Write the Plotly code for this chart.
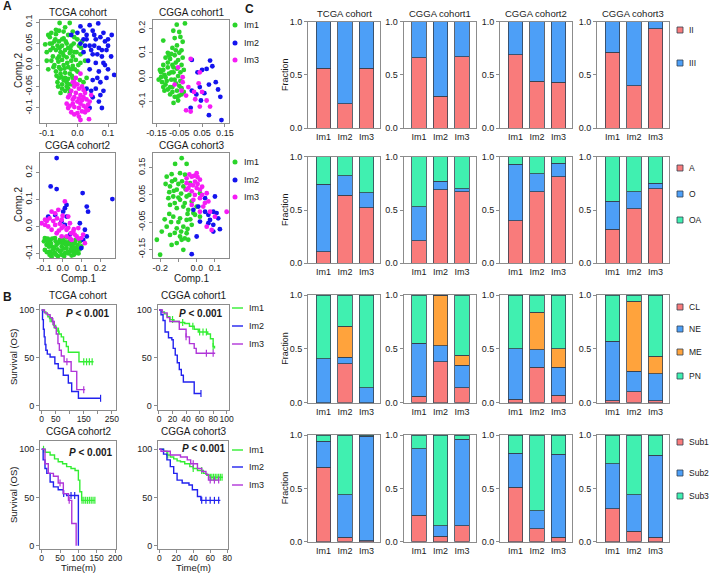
import plotly.graph_objects as go

W, H = 709, 573
FONT = "Liberation Sans, Arial, sans-serif"
TXT = "#1a1a1a"
BOX = "#8c8c8c"

# ======================= DATA =======================
groups = ["Im1", "Im2", "Im3"]
cohorts = ["TCGA cohort", "CGGA cohort1", "CGGA cohort2", "CGGA cohort3"]

# ---- Panel A: PCA scatter (Comp.1, Comp.2) ----
tcga_im1 = [(-0.058,0.098),(-0.025,0.098),(-0.095,0.07),(-0.085,0.075),(-0.07,0.072),(-0.06,0.08),(-0.045,0.078),
            (-0.03,0.07),(-0.01,0.065),(0.0,0.06),(-0.105,0.048),(-0.09,0.05),(-0.075,0.055),(-0.06,0.055),(-0.05,0.06),
            (-0.035,0.05),(-0.02,0.045),(0.005,0.045),(-0.07,0.035),(-0.055,0.03),(-0.04,0.035),(-0.025,0.028),(-0.01,0.03),
            (0.01,0.025),(-0.08,0.02),(-0.065,0.015),(-0.05,0.012),(-0.035,0.018),(-0.02,0.01),(-0.005,0.012),(-0.075,0.0),
            (-0.06,-0.005),(-0.045,0.0),(-0.03,-0.005),(-0.015,-0.002),(-0.07,-0.015),(-0.055,-0.02),(-0.04,-0.018),
            (-0.025,-0.02),(-0.06,-0.03),(-0.045,-0.035),(-0.03,-0.032),(-0.015,-0.03),(-0.05,-0.045),(-0.035,-0.05),
            (-0.02,-0.045),(-0.04,-0.06),(-0.025,-0.065),(0.02,-0.04),(0.03,-0.03),(0.01,0.005),(-0.085,0.01),(-0.1,0.03),
            (-0.065,-0.04),(-0.05,0.045),(0.015,0.055),(-0.065,0.045),(-0.045,0.022),(-0.03,0.04),(-0.055,-0.01),
            (-0.04,-0.03),(-0.08,0.04),(-0.09,0.065),(-0.02,-0.01),(-0.035,-0.04),(-0.05,-0.055),(-0.015,0.02),
            (0.0,-0.015),(-0.06,0.02),(-0.045,0.062),
            (-0.1,0.01),(-0.095,-0.01),(-0.088,0.035),(-0.078,-0.005),(-0.072,0.06),(-0.068,-0.025),(-0.062,0.008),
            (-0.058,0.04),(-0.052,-0.028),(-0.048,0.028),(-0.042,-0.008),(-0.038,0.055),(-0.033,0.005),(-0.028,-0.045),
            (-0.022,0.035),(-0.018,-0.025),(-0.012,0.05),(-0.008,-0.01),(-0.003,0.03),(0.003,0.0),(0.008,-0.035),
            (0.012,0.04),(-0.07,0.082),(-0.04,0.088),(-0.015,0.078),(-0.055,-0.065),(-0.03,-0.055),(-0.083,0.05),
            (-0.063,-0.05),(0.025,0.01)]
tcga_im2 = [(0.04,0.093),(0.068,0.097),(0.112,0.07),(0.12,-0.023),(0.08,-0.1),(-0.02,0.07),(0.0,0.075),(0.02,0.08),
            (0.05,0.08),(0.085,0.075),(0.03,0.06),(0.06,0.06),(0.09,0.055),(0.01,0.05),(0.04,0.045),(0.07,0.04),
            (0.1,0.045),(0.02,0.03),(0.05,0.025),(0.08,0.02),(0.11,0.02),(0.035,0.01),(0.06,0.005),(0.09,0.0),
            (0.04,-0.01),(0.07,-0.015),(0.1,-0.01),(0.05,-0.035),(0.075,-0.04),(0.06,-0.055),(0.085,-0.06),
            (0.05,-0.075),(0.07,-0.085),(0.04,-0.1),(0.03,-0.055),(0.065,0.025),(0.08,0.035),
            (0.01,0.09),(0.03,0.07),(0.055,0.07),(0.075,0.065),(0.095,0.035),(0.045,0.035),(0.025,0.045),
            (0.055,0.045),(0.085,0.005),(0.065,-0.03),(0.095,-0.03),(0.045,-0.06),(0.075,-0.07),(0.1,0.06),(0.02,0.06)]
tcga_im3 = [(0.038,-0.126),(-0.015,-0.04),(0.0,-0.045),(0.015,-0.05),(-0.02,-0.06),(-0.005,-0.065),(0.01,-0.07),
            (0.025,-0.065),(-0.03,-0.075),(-0.015,-0.08),(0.0,-0.085),(0.015,-0.082),(0.03,-0.08),(-0.025,-0.095),
            (-0.01,-0.098),(0.005,-0.1),(0.02,-0.095),(0.035,-0.092),(-0.02,-0.11),(0.0,-0.112),(0.015,-0.108),
            (0.005,-0.12),(-0.005,-0.03),(0.045,-0.07),(-0.035,-0.09),(0.025,-0.11),(-0.01,-0.05),(0.01,-0.02),
            (-0.01,-0.04),(0.005,-0.055),(0.02,-0.058),(-0.025,-0.07),(-0.01,-0.075),(0.005,-0.078),(0.02,-0.075),
            (0.04,-0.085),(-0.03,-0.1),(-0.015,-0.09),(0.01,-0.09),(0.028,-0.1),(-0.01,-0.115),(0.01,-0.128),
            (0.035,-0.105)]

cgga1_im1 = [(-0.061,0.215),(-0.025,0.22),(-0.12,0.15),(-0.076,0.19),(-0.05,0.185),(-0.07,0.16),(-0.045,0.165),
             (-0.035,0.145),(-0.06,0.13),(-0.08,0.12),(-0.1,0.1),(-0.04,0.11),(-0.11,0.08),(-0.09,0.075),(-0.07,0.09),
             (-0.055,0.07),(-0.12,0.05),(-0.1,0.04),(-0.08,0.05),(-0.06,0.035),(-0.04,0.05),(-0.13,0.02),(-0.115,0.01),
             (-0.095,0.015),(-0.075,0.02),(-0.055,0.005),(-0.14,-0.01),(-0.125,-0.02),(-0.105,-0.015),(-0.085,-0.01),
             (-0.065,-0.025),(-0.045,-0.015),(-0.12,-0.04),(-0.1,-0.05),(-0.08,-0.04),(-0.06,-0.055),(-0.04,-0.045),
             (-0.09,-0.07),(-0.07,-0.08),(-0.05,-0.075),(-0.075,-0.105),(-0.055,-0.095),(-0.03,-0.06),(-0.11,0.0),
             (-0.03,0.03),(-0.095,0.09),
             (-0.13,0.0),(-0.12,0.03),(-0.11,-0.03),(-0.1,0.06),(-0.09,-0.04),(-0.085,0.02),(-0.08,-0.06),
             (-0.075,0.04),(-0.07,-0.01),(-0.065,0.06),(-0.06,-0.08),(-0.05,-0.035),(-0.045,0.02),(-0.04,-0.07),
             (-0.035,0.08),(-0.05,0.1),(-0.065,0.11),(-0.085,0.095),(-0.135,0.03),(-0.115,-0.055)]
cgga1_im2 = [(0.005,0.071),(0.085,0.068),(0.07,0.034),(0.05,0.03),(0.03,0.02),(0.08,-0.03),(0.12,-0.05),(0.13,-0.08),
             (0.005,-0.055),(0.025,-0.07),(0.045,-0.095),(0.0,-0.125),(0.08,-0.155),(0.135,-0.175),(0.11,-0.02),
             (0.04,-0.04),(0.095,0.045),(0.06,-0.065)]
cgga1_im3 = [(0.0,0.075),(-0.055,0.04),(-0.035,0.0),(-0.07,-0.03),(-0.01,-0.04),(-0.02,-0.075),(0.015,-0.06),
             (0.035,-0.025),(0.04,0.02),(0.05,-0.06),(0.07,-0.095),(0.04,-0.12),(0.0,-0.14),(-0.02,-0.135),
             (-0.04,-0.055),(0.02,-0.09),(-0.035,-0.02),(0.085,-0.12)]

cgga2_im1 = [(-0.095,-0.043),(-0.068,-0.05),(-0.041,-0.043),(-0.014,-0.05),(0.012,-0.056),(0.039,-0.05),(0.066,-0.062),
             (0.093,-0.056),(-0.086,-0.068),(-0.059,-0.074),(-0.032,-0.068),(-0.005,-0.074),(0.021,-0.08),(0.048,-0.074),
             (0.075,-0.08),(0.1,-0.074),(-0.095,-0.087),(-0.068,-0.093),(-0.041,-0.099),(-0.014,-0.093),(0.012,-0.099),
             (0.039,-0.093),(0.066,-0.099),(-0.059,-0.112),(-0.005,-0.105),(0.048,-0.108),(0.075,-0.087),(-0.077,-0.06),
             (-0.05,-0.085),(0.0,-0.062),(0.03,-0.065),(0.055,-0.09),(-0.025,-0.11),(0.085,-0.1),(-0.1,-0.055),(0.02,-0.04),
             (-0.09,-0.05),(-0.08,-0.045),(-0.073,-0.075),(-0.063,-0.062),(-0.055,-0.045),(-0.046,-0.078),(-0.037,-0.055),
             (-0.028,-0.085),(-0.02,-0.06),(-0.01,-0.09),(0.0,-0.048),(0.006,-0.082),(0.016,-0.066),(0.025,-0.095),
             (0.034,-0.058),(0.044,-0.085),(0.052,-0.066),(0.061,-0.078),(0.07,-0.05),(0.08,-0.068),(0.09,-0.085),
             (-0.085,-0.095),(-0.05,-0.1),(-0.035,-0.105),(0.008,-0.11),(0.03,-0.1),(-0.07,-0.105),(0.06,-0.105)]
cgga2_im2 = [(-0.032,0.254),(-0.064,0.149),(-0.032,0.139),(0.107,0.124),(0.266,0.102),(0.129,0.074),(0.136,0.055),
             (0.012,0.068),(0.003,0.055),(0.021,0.037),(-0.006,0.019),(0.012,0.006),(0.092,0.012),(0.119,-0.012),
             (0.129,-0.037),(0.11,-0.05),(0.1,-0.08),(-0.077,0.037),(-0.04,0.043),(0.021,0.08),(0.039,-0.03)]
cgga2_im3 = [(0.012,0.093),(-0.094,0.025),(-0.059,0.055),(-0.04,0.049),(-0.077,0.0),(-0.04,0.006),(-0.005,0.025),
             (-0.005,-0.006),(0.021,-0.012),(0.039,0.012),(0.057,-0.019),(0.075,-0.037),(0.1,-0.043),(0.119,-0.062),
             (0.048,-0.05),(0.021,-0.037),(-0.032,-0.025),(-0.059,-0.012),(-0.094,0.006),(0.084,-0.006),(-0.023,0.062),
             (0.03,0.037),(-0.112,0.012),(-0.005,-0.037),
             (-0.085,0.02),(-0.07,0.03),(-0.05,0.02),(-0.03,0.03),(-0.015,0.01),(0.005,0.0),(0.03,-0.005),
             (0.045,-0.025),(0.065,-0.03),(0.085,-0.045),(0.11,-0.03),(0.06,-0.01),(-0.02,-0.015),(0.0,0.04),
             (0.04,-0.045)]

cgga3_im1 = [(-0.082,0.185),(-0.118,0.164),(-0.055,0.164),(-0.164,0.117),(-0.137,0.126),(-0.091,0.13),(-0.064,0.124),
             (-0.118,0.106),(-0.146,0.081),(-0.109,0.069),(-0.073,0.081),(-0.036,0.093),(-0.155,0.038),(-0.128,0.044),
             (-0.091,0.032),(-0.055,0.044),(-0.027,0.026),(-0.146,0.013),(-0.109,0.001),(-0.073,0.007),(-0.046,-0.005),
             (-0.018,-0.017),(-0.128,-0.03),(-0.091,-0.036),(-0.055,-0.042),(-0.164,-0.067),(-0.109,-0.073),
             (-0.073,-0.067),(-0.027,-0.06),(-0.191,-0.085),(-0.146,-0.097),(-0.091,-0.103),(-0.055,-0.091),
             (-0.218,-0.115),(-0.137,-0.134),(-0.109,-0.127),(-0.073,-0.152),(-0.2,-0.17),(-0.082,-0.115),
             (-0.046,-0.115),(-0.009,-0.023),(0.018,0.056),(0.0,0.007),(0.018,-0.03),
             (-0.17,0.09),(-0.15,0.06),(-0.135,0.1),(-0.125,0.065),(-0.12,0.02),(-0.1,0.09),(-0.1,0.04),
             (-0.085,0.055),(-0.08,0.1),(-0.065,0.02),(-0.06,0.07),(-0.05,-0.02),(-0.04,0.05),(-0.035,-0.04),
             (-0.14,-0.05),(-0.12,-0.09),(-0.1,-0.05),(-0.085,-0.085),(-0.065,-0.11),(-0.05,-0.075),(-0.15,-0.02),
             (-0.175,-0.04)]
cgga3_im2 = [(0.1,0.044),(0.046,0.038),(0.009,0.007),(0.046,-0.012),(0.064,-0.023),(0.091,-0.012),(0.109,-0.017),
             (0.118,-0.036),(0.018,-0.048),(0.064,-0.054),(0.091,-0.06),(0.127,-0.076),(0.091,-0.085),(0.0,-0.103),
             (-0.027,-0.168),(-0.018,-0.005),(0.073,-0.042)]
cgga3_im3 = [(0.0,0.13),(-0.027,0.117),(-0.055,0.111),(-0.009,0.099),(0.018,0.106),(-0.036,0.087),(0.0,0.075),
             (-0.055,0.069),(-0.027,0.063),(0.018,0.069),(-0.018,0.032),(0.018,0.038),(0.055,0.056),(0.064,0.026),
             (0.036,0.007),(0.073,-0.012),(0.1,-0.03),(0.164,-0.012),(0.055,-0.067),(0.082,-0.079),(0.018,-0.012),
             (-0.027,0.013),(-0.055,0.093),
             (-0.04,0.125),(-0.015,0.12),(0.005,0.115),(-0.02,0.085),(0.005,0.09),(-0.045,0.075),(0.03,0.08),
             (-0.01,0.05),(0.03,0.05),(0.045,0.02)]

# ---- Panel B: Kaplan-Meier step data (time in months, survival %) ----
tcga_km_im1_t = [0, 8, 15, 22, 28, 35, 42, 50, 55, 62, 70, 78, 88, 95, 133, 185]
tcga_km_im1_s = [100, 98, 96, 93, 91, 88, 84, 81, 78, 75, 72, 67, 62, 56, 46, 46]
tcga_km_im2_t = [0, 3, 6, 9, 12, 15, 20, 30, 47, 59, 77, 95, 107, 131, 210]
tcga_km_im2_s = [100, 90, 80, 72, 64, 58, 54, 51, 44, 39, 32, 24, 15, 8, 8]
tcga_km_im3_t = [0, 10, 20, 30, 38, 45, 52, 58, 63, 70, 80, 105, 125, 155]
tcga_km_im3_s = [100, 97, 95, 92, 88, 82, 75, 65, 58, 52, 46, 36, 17, 17]
tcga_cens = {"Im1": [30, 45, 60, 150, 160, 170, 180], "Im2": [210], "Im3": [40, 90, 150]}

cgga1_km_im1_t = [0, 4, 8, 12, 16, 22, 30, 38, 45, 52, 58, 72, 76, 80, 82]
cgga1_km_im1_s = [100, 98, 96, 93, 90, 88, 87, 86, 83, 80, 77, 75, 70, 62, 60]
cgga1_km_im2_t = [0, 3, 6, 9, 14, 19, 21, 24, 27, 30, 33, 36, 52, 62]
cgga1_km_im2_s = [100, 95, 89, 77, 71, 69, 60, 53, 45, 38, 32, 25, 13, 13]
cgga1_km_im3_t = [0, 5, 12, 16, 30, 40, 45, 52, 55, 83]
cgga1_km_im3_s = [100, 97, 92, 88, 80, 72, 65, 60, 55, 55]
cgga1_cens = {"Im1": [20, 35, 50, 60, 65, 70, 80], "Im2": [62], "Im3": [40, 70, 80]}

cgga2_km_im1_t = [0, 10, 23, 35, 45, 57, 68, 80, 91, 100, 104, 109, 145]
cgga2_km_im1_s = [100, 97, 94, 90, 87, 85, 82, 80, 78, 68, 56, 47, 47]
cgga2_km_im2_t = [0, 4, 9, 14, 23, 32, 45, 59, 68, 100]
cgga2_km_im2_s = [100, 89, 80, 75, 66, 61, 58, 54, 52, 0]
cgga2_km_im3_t = [0, 9, 18, 32, 45, 59, 73, 82, 94]
cgga2_km_im3_s = [100, 85, 75, 72, 65, 54, 47, 23, 0]
cgga2_cens = {"Im1": [5, 110, 115, 120, 125, 130, 135, 140, 145], "Im2": [60, 80, 90], "Im3": [50, 75]}

cgga3_km_im1_t = [0, 5, 9, 13, 17, 21, 25, 30, 36, 40, 45, 52, 56, 60, 75]
cgga3_km_im1_s = [100, 98, 94, 92, 90, 88, 87, 85, 82, 80, 78, 75, 73, 71, 71]
cgga3_km_im2_t = [0, 5, 9, 13, 17, 21, 27, 35, 39, 45, 49, 72]
cgga3_km_im2_s = [100, 95, 89, 82, 75, 68, 65, 63, 58, 51, 47, 47]
cgga3_km_im3_t = [0, 2, 13, 20, 25, 33, 37, 45, 50, 55, 58, 71]
cgga3_km_im3_s = [100, 98, 94, 94, 92, 89, 85, 80, 77, 74, 68, 68]
cgga3_cens = {"Im1": [10, 40, 50, 60, 62, 64, 66, 68, 70, 72, 74], "Im2": [50, 55, 60, 65, 70],
              "Im3": [40, 60, 65, 70]}

p_label = "<b><i>P</i> < 0.001</b>"

# ---- Panel C: stacked fractions, per cohort [TCGA, CGGA1, CGGA2, CGGA3], values for Im1, Im2, Im3 ----
grade_levels = ["II", "III"]
grade_II = [[0.56, 0.23, 0.56], [0.66, 0.30, 0.67], [0.69, 0.44, 0.43], [0.71, 0.40, 0.93]]
grade_III = [[0.44, 0.77, 0.44], [0.34, 0.70, 0.33], [0.31, 0.56, 0.57], [0.29, 0.60, 0.07]]

hist_levels = ["A", "O", "OA"]
hist_A = [[0.11, 0.64, 0.52], [0.21, 0.69, 0.67], [0.40, 0.67, 0.81], [0.32, 0.51, 0.70]]
hist_O = [[0.63, 0.18, 0.14], [0.32, 0.08, 0.03], [0.53, 0.17, 0.13], [0.26, 0.16, 0.05]]
hist_OA = [[0.26, 0.18, 0.34], [0.47, 0.23, 0.30], [0.07, 0.16, 0.06], [0.42, 0.33, 0.25]]

sub_levels = ["CL", "NE", "ME", "PN"]
sub_CL = [[0.00, 0.36, 0.00], [0.06, 0.38, 0.14], [0.03, 0.33, 0.07], [0.02, 0.10, 0.02]]
sub_NE = [[0.41, 0.06, 0.14], [0.49, 0.15, 0.21], [0.47, 0.16, 0.26], [0.55, 0.19, 0.25]]
sub_ME = [[0.00, 0.29, 0.00], [0.00, 0.47, 0.09], [0.00, 0.35, 0.17], [0.00, 0.65, 0.16]]
sub_PN = [[0.59, 0.29, 0.86], [0.45, 0.00, 0.56], [0.50, 0.16, 0.50], [0.43, 0.06, 0.57]]

cls_levels = ["Sub1", "Sub2", "Sub3"]
cls_Sub1 = [[0.70, 0.04, 0.01], [0.25, 0.05, 0.15], [0.51, 0.12, 0.04], [0.31, 0.10, 0.04]]
cls_Sub2 = [[0.24, 0.40, 0.98], [0.62, 0.10, 0.81], [0.32, 0.17, 0.78], [0.42, 0.34, 0.77]]
cls_Sub3 = [[0.06, 0.56, 0.01], [0.13, 0.85, 0.04], [0.17, 0.71, 0.18], [0.27, 0.56, 0.19]]

# ======================= STYLE =======================
SC_COL = {"Im1": "#2ad42a", "Im2": "#1414ee", "Im3": "#f51cf5"}
KM_COL = {"Im1": "#33ee33", "Im2": "#2222ee", "Im3": "#b036d8"}
C_RED, C_BLUE, C_GREEN, C_ORANGE = "#f97b7b", "#4d9ff7", "#40f0b0", "#ffa33c"
BAR_EDGE = "#34404f"

fig = go.Figure()
layout = {}
annotations = []
shapes = []

def xd(a, b):
    return [a / W, b / W]

def yd(a, b):
    return [1 - b / H, 1 - a / H]

axis_counter = [0]

def new_axes(xbox, ybox, xr, yr, xtv, xtt, ytv, ytt, ytickangle=0, xticks="outside", yticks="outside",
             xfont=9, yfont=9, xstand=0):
    axis_counter[0] += 1
    i = axis_counter[0]
    sx = "" if i == 1 else str(i)
    common = dict(showline=True, mirror=True, linecolor=BOX, linewidth=1, showgrid=False, zeroline=False,
                  ticklen=3, tickcolor=BOX, fixedrange=True, automargin=False)
    layout["xaxis" + sx] = dict(domain=xd(*xbox), range=xr, anchor="y" + sx, tickmode="array", tickvals=xtv,
                                ticktext=xtt, ticks=xticks, tickangle=0, ticklabelstandoff=xstand,
                                tickfont=dict(size=xfont, color=TXT, family=FONT), **common)
    layout["yaxis" + sx] = dict(domain=yd(*ybox), range=yr, anchor="x" + sx, tickmode="array", tickvals=ytv,
                                ticktext=ytt, ticks=yticks, tickangle=ytickangle,
                                tickfont=dict(size=yfont, color=TXT, family=FONT), **common)
    return "x" + sx, "y" + sx

def text(x, y, s, size=10, bold=False, xanchor="center", yanchor="middle", angle=0):
    annotations.append(dict(x=x / W, y=1 - y / H, xref="paper", yref="paper", text=("<b>%s</b>" % s) if bold else s,
                            showarrow=False, xanchor=xanchor, yanchor=yanchor, textangle=angle,
                            font=dict(size=size, color=TXT, family=FONT)))

# ======================= PANEL A =======================
scatter_sets = [(tcga_im1, tcga_im2, tcga_im3), (cgga1_im1, cgga1_im2, cgga1_im3),
                (cgga2_im1, cgga2_im2, cgga2_im3), (cgga3_im1, cgga3_im2, cgga3_im3)]
a_boxes = [((40, 116), (20, 123)), ((153, 229), (20, 123)), ((40, 115), (153, 258)), ((153, 229), (153, 258))]
a_ranges = [([-0.122, 0.126], [-0.135, 0.105]), ([-0.165, 0.168], [-0.187, 0.234]),
            ([-0.121, 0.28], [-0.117, 0.273]), ([-0.239, 0.177], [-0.182, 0.204])]
a_xticks = [([-0.1, 0.0, 0.1], ["-0.1", "0.0", "0.1"]),
            ([-0.15, -0.05, 0.05, 0.15], ["-0.15", "-0.05", "0.05", "0.15"]),
            ([-0.1, 0.0, 0.1, 0.2], ["-0.1", "0.0", "0.1", "0.2"]),
            ([-0.2, -0.1, 0.0, 0.1], ["-0.2", "", "0.0", "0.1"])]
a_yticks = [([-0.1, -0.05, 0.0, 0.05, 0.1], ["-0.1", "-0.05", "0.0", "0.05", "0.1"]),
            ([-0.1, 0.0, 0.1, 0.2], ["-0.1", "0.0", "0.1", "0.2"]),
            ([-0.1, 0.0, 0.1, 0.2], ["-0.1", "0.0", "0.1", "0.2"]),
            ([-0.15, -0.05, 0.05, 0.15], ["-0.15", "-0.05", "0.05", "0.15"])]
for k in range(4):
    (xb, yb), (xr, yr) = a_boxes[k], a_ranges[k]
    xa, ya = new_axes(xb, yb, xr, yr, a_xticks[k][0], a_xticks[k][1], a_yticks[k][0], a_yticks[k][1],
                      ytickangle=-90, xstand=-2)
    for g, pts in zip(groups, scatter_sets[k]):
        fig.add_trace(go.Scatter(x=[p[0] for p in pts], y=[p[1] for p in pts], mode="markers", xaxis=xa, yaxis=ya,
                                 marker=dict(size=4.8, color=SC_COL[g], line=dict(width=0)), showlegend=False,
                                 hoverinfo="skip"))
    text((xb[0] + xb[1]) / 2, yb[0] - 8, cohorts[k], size=10)

text(18, 71, "Comp.2", size=10, angle=-90)
text(18, 205, "Comp.2", size=10, angle=-90)
text(78, 278.5, "Comp.1", size=10)
text(191, 278.5, "Comp.1", size=10)

for ys in ([25, 43, 60], [162, 180, 197]):
    for g, yy in zip(groups, ys):
        shapes.append(dict(type="circle", xref="paper", yref="paper", x0=(235 - 2.5) / W, x1=(235 + 2.5) / W,
                           y0=1 - (yy + 2.5) / H, y1=1 - (yy - 2.5) / H, fillcolor=SC_COL[g], line=dict(width=0)))
        text(242, yy, g, size=9, xanchor="left")

# ======================= PANEL B =======================
km_sets = [
    ((tcga_km_im1_t, tcga_km_im1_s), (tcga_km_im2_t, tcga_km_im2_s), (tcga_km_im3_t, tcga_km_im3_s), tcga_cens),
    ((cgga1_km_im1_t, cgga1_km_im1_s), (cgga1_km_im2_t, cgga1_km_im2_s), (cgga1_km_im3_t, cgga1_km_im3_s), cgga1_cens),
    ((cgga2_km_im1_t, cgga2_km_im1_s), (cgga2_km_im2_t, cgga2_km_im2_s), (cgga2_km_im3_t, cgga2_km_im3_s), cgga2_cens),
    ((cgga3_km_im1_t, cgga3_km_im1_s), (cgga3_km_im2_t, cgga3_km_im2_s), (cgga3_km_im3_t, cgga3_km_im3_s), cgga3_cens),
]
b_boxes = [((40, 116), (305, 410)), ((157.5, 229), (305, 410)), ((40, 116), (441, 549)), ((158, 228), (441, 549))]
b_ranges = [([-6, 265], [-4.2, 105.2]), ([-2.2, 103.4], [-4.2, 105.2]),
            ([-4.6, 202.6], [-3.5, 108.6]), ([-1.5, 81], [-3.5, 108.6])]
b_xticks = [([0, 50, 100, 150, 200, 250], ["0", "50", "", "150", "", "250"]),
            ([0, 20, 40, 60, 80, 100], ["0", "20", "40", "60", "80", "100"]),
            ([0, 50, 100, 150, 200], ["0", "50", "100", "150", "200"]),
            ([0, 20, 40, 60, 80], ["0", "20", "40", "60", "80"])]
b_p_pos = [(88, 313), (201, 313), (91, 452), (204, 448)]

def surv_at(ts, ss, t):
    v = ss[0]
    for tt, s in zip(ts, ss):
        if tt <= t:
            v = s
    return v

for k in range(4):
    (xb, yb), (xr, yr) = b_boxes[k], b_ranges[k]
    xa, ya = new_axes(xb, yb, xr, yr, b_xticks[k][0], b_xticks[k][1], [0, 50, 100], ["0", "50", "100"],
                      xfont=8.5, xstand=-2)
    curves = km_sets[k][:3]
    cens = km_sets[k][3]
    for g, (ts, ss) in zip(groups, curves):
        fig.add_trace(go.Scatter(x=ts, y=ss, mode="lines", line=dict(color=KM_COL[g], width=1.4, shape="hv"),
                                 xaxis=xa, yaxis=ya, showlegend=False, hoverinfo="skip"))
        ct = cens[g]
        fig.add_trace(go.Scatter(x=ct, y=[surv_at(ts, ss, t) for t in ct], mode="markers", xaxis=xa, yaxis=ya,
                                 marker=dict(symbol="line-ns", size=5, line=dict(color=KM_COL[g], width=1.2)),
                                 showlegend=False, hoverinfo="skip"))
    text((xb[0] + xb[1]) / 2, yb[0] - 10, cohorts[k], size=10)
    text(b_p_pos[k][0], b_p_pos[k][1], p_label, size=10)

text(13, 357, "Survival (OS)", size=9.5, angle=-90)
text(13, 495, "Survival (OS)", size=9.5, angle=-90)
text(78, 567.5, "Time(m)", size=9.5)
text(193, 567.5, "Time(m)", size=9.5)

for ys in ([308, 326, 344], [450, 467, 485]):
    for g, yy in zip(groups, ys):
        shapes.append(dict(type="line", xref="paper", yref="paper", x0=232 / W, x1=243 / W, y0=1 - yy / H,
                           y1=1 - yy / H, line=dict(color=KM_COL[g], width=1.4)))
        text(247, yy, g, size=9, xanchor="left")

# ======================= PANEL C =======================
c_cols = [(308, 380), (403.5, 475.5), (500, 572), (597, 669)]
c_rows = [(21.5, 128.3), (156.7, 263.3), (295, 402.7), (435, 541.7)]
row_sets = [
    (grade_levels, [grade_II, grade_III], [C_RED, C_BLUE], [30, 63]),
    (hist_levels, [hist_A, hist_O, hist_OA], [C_RED, C_BLUE, C_GREEN], [168, 194, 220]),
    (sub_levels, [sub_CL, sub_NE, sub_ME, sub_PN], [C_RED, C_BLUE, C_ORANGE, C_GREEN], [307, 329, 352, 376]),
    (cls_levels, [cls_Sub1, cls_Sub2, cls_Sub3], [C_RED, C_BLUE, C_GREEN], [442, 473, 496]),
]
for r, (levels, vals, cols, legy) in enumerate(row_sets):
    yb = c_rows[r]
    for c in range(4):
        xb = c_cols[c]
        xa, ya = new_axes(xb, yb, [0.279, 3.628], [0, 1.0], [1, 2, 3], groups, [0, 0.5, 1.0],
                          ["0.0", "0.5", "1.0"], xticks="")
        for lev, v, col in zip(levels, vals, cols):
            fig.add_trace(go.Bar(x=[1, 2, 3], y=v[c], width=0.67, xaxis=xa, yaxis=ya, showlegend=False,
                                 marker=dict(color=col, line=dict(color=BAR_EDGE, width=0.8)), hoverinfo="skip"))
        if r == 0:
            text((xb[0] + xb[1]) / 2, 14, cohorts[c], size=9.5)
    text(285, (yb[0] + yb[1]) / 2, "Fraction", size=9, angle=-90)
    for lev, col, yy in zip(levels, cols, legy):
        shapes.append(dict(type="rect", xref="paper", yref="paper", x0=677 / W, x1=683 / W,
                           y0=1 - (yy + 3) / H, y1=1 - (yy - 3) / H, fillcolor=col,
                           line=dict(color=BAR_EDGE, width=0.8)))
        text(687, yy, lev, size=8.5, xanchor="left")

# panel letters
text(1, 6, "A", size=12, bold=True, xanchor="left")
text(1, 297, "B", size=12, bold=True, xanchor="left")
text(243, 9, "C", size=12, bold=True, xanchor="left")

fig.update_layout(width=W, height=H, margin=dict(l=0, r=0, t=0, b=0, autoexpand=False), paper_bgcolor="white",
                  plot_bgcolor="white", barmode="stack", bargap=0, showlegend=False,
                  annotations=annotations, shapes=shapes, font=dict(family=FONT, color=TXT), **layout)
fig.write_html("out.html", config={"displayModeBar": False, "staticPlot": True},
               post_script="document.body.style.margin='0px';document.body.style.padding='0px';"
                           "document.body.style.overflow='hidden';")
